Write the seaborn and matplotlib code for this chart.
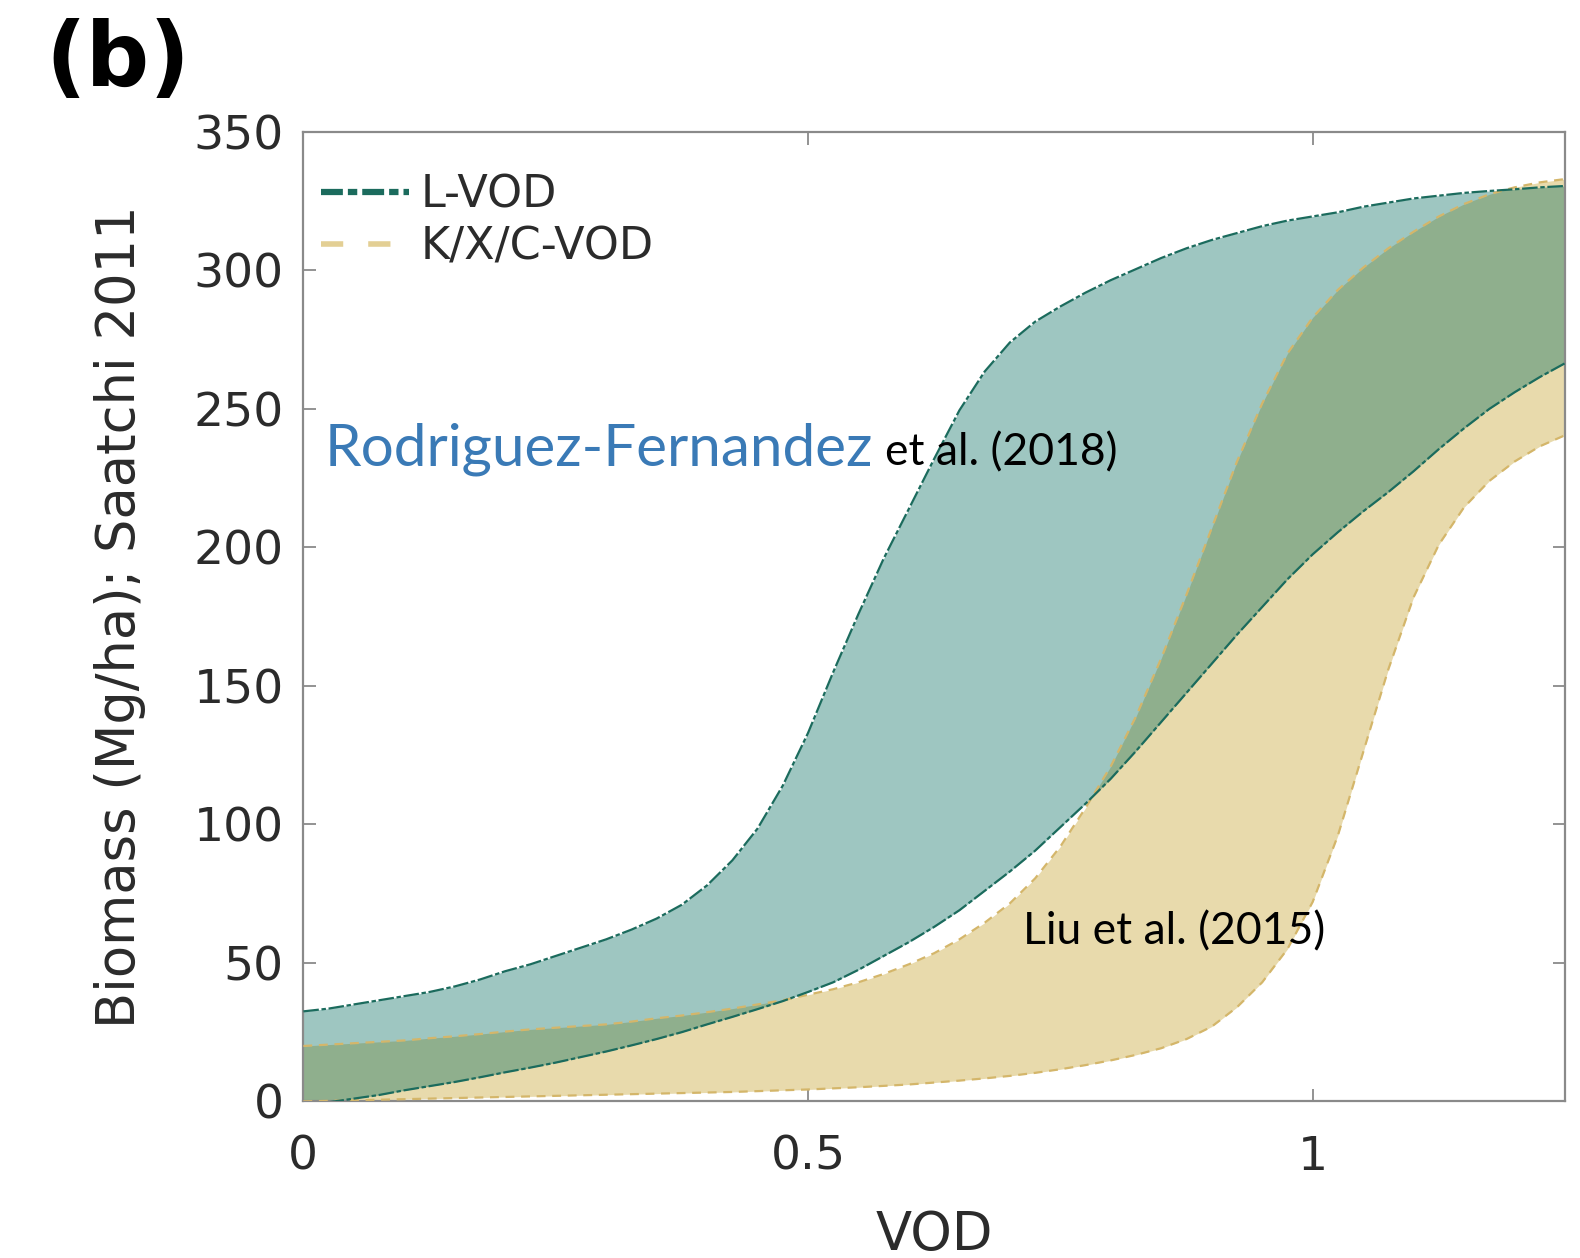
import numpy as np
import pandas as pd
import matplotlib
matplotlib.use("Agg")
import matplotlib.pyplot as plt
import seaborn as sns
from matplotlib.lines import Line2D

# ---------------- data ----------------
vod = [0.0, 0.025, 0.05, 0.075, 0.1, 0.125, 0.15, 0.175, 0.2, 0.225,
       0.25, 0.275, 0.3, 0.325, 0.35, 0.375, 0.4, 0.425, 0.45, 0.475,
       0.5, 0.525, 0.55, 0.575, 0.6, 0.625, 0.65, 0.675, 0.7, 0.725,
       0.75, 0.775, 0.8, 0.825, 0.85, 0.875, 0.9, 0.925, 0.95, 0.975,
       1.0, 1.025, 1.05, 1.075, 1.1, 1.125, 1.15, 1.175, 1.2, 1.225, 1.25]

lvod_upper = [32.5, 33.5, 35, 36.5, 38, 39.5, 41.5, 44, 47, 49.5,
              52.5, 55.5, 58.5, 62, 66, 71, 78, 87, 98.5, 114,
              133, 155, 176, 196, 214, 232, 249.5, 263.5, 274, 281.5,
              287, 292, 296.5, 300.5, 304.5, 308, 311, 313.5, 316, 318,
              319.5, 321, 323, 324.5, 326, 327, 328, 328.7, 329.3, 330, 330.5]

lvod_lower = [-1.5, -0.3, 1, 2.3, 4, 5.5, 7, 8.7, 10.5, 12.2,
              14, 16, 18, 20.2, 22.5, 25, 27.8, 30.5, 33.3, 36.2,
              39.5, 43, 47.5, 52.5, 57.5, 63, 69, 76, 83, 90.5,
              99, 107.5, 116.5, 126.5, 137, 147.5, 158, 168.5, 178.5, 188.5,
              197.5, 205.5, 213, 220, 227.5, 235.5, 243, 250, 256, 261.5, 266.5]

kxc_upper = [20, 20.5, 21, 21.5, 22, 22.8, 23.5, 24.3, 25.2, 26,
             26.6, 27.2, 27.8, 28.8, 30, 31, 32.2, 33.5, 35, 36.5,
             38.5, 40.5, 43, 46, 49.5, 53.5, 58.5, 64.5, 71.5, 80.5,
             92, 106, 121, 139, 160, 183, 207, 231, 252, 270,
             283, 293, 301, 308, 314, 319.5, 324, 327.5, 330, 331.8, 333]

kxc_lower = [0, 0.2, 0.4, 0.6, 0.8, 1.0, 1.2, 1.4, 1.6, 1.8,
             2.0, 2.2, 2.4, 2.6, 2.8, 3.0, 3.2, 3.4, 3.7, 4.0,
             4.3, 4.7, 5.1, 5.6, 6.1, 6.8, 7.5, 8.3, 9.2, 10.3,
             11.6, 13.1, 14.8, 16.8, 19.2, 22.5, 27, 34, 43, 55,
             72, 96, 126, 156, 182, 201, 214.5, 224, 231, 236.5, 240.5]

series_names = ["L-VOD", "K/X/C-VOD"]
x_ticks = [0, 0.5, 1]
x_tick_labels = ["0", "0.5", "1"]
y_ticks = [0, 50, 100, 150, 200, 250, 300, 350]
y_tick_labels = ["0", "50", "100", "150", "200", "250", "300", "350"]

# ---------------- style ----------------
sns.set_theme(style="white")
plt.rcParams["font.family"] = ["DejaVu Sans"]

teal_fill = "#00695c"
teal_line = "#1b6b5d"
sand_fill = "#e8daac"
sand_line = "#d4b66a"
text_gray = "#2b2b2b"
spine_gray = "#8a8a8a"

fig = plt.figure(figsize=(15.8, 12.58), dpi=100)
ax = fig.add_axes([0.192, 0.1245, 0.7985, 0.7706])

df = pd.DataFrame({"VOD": vod, "lu": lvod_upper, "ll": lvod_lower,
                   "ku": kxc_upper, "kl": kxc_lower})

# filled envelopes
ax.fill_between(df["VOD"], df["kl"], df["ku"], color=sand_fill, lw=0, zorder=1)
ax.fill_between(df["VOD"], df["ll"], df["lu"], color=teal_fill, alpha=0.38, lw=0, zorder=2)

# envelope edges via seaborn
for col in ["ku", "kl"]:
    sns.lineplot(data=df, x="VOD", y=col, ax=ax, color=sand_line, lw=1.6,
                 zorder=3, estimator=None, sort=False)
    ax.lines[-1].set_dashes([4, 3])
for col in ["lu", "ll"]:
    sns.lineplot(data=df, x="VOD", y=col, ax=ax, color=teal_line, lw=1.6,
                 zorder=4, estimator=None, sort=False)
    ax.lines[-1].set_dashes([7, 1.2, 2, 1.2])

ax.set_xlim(0, 1.25)
ax.set_ylim(0, 350)
ax.set_xticks(x_ticks)
ax.set_xticklabels(x_tick_labels)
ax.set_yticks(y_ticks)
ax.set_yticklabels(y_tick_labels)

ax.tick_params(axis="both", which="both", direction="in", length=9, width=1.3,
               color=spine_gray, labelsize=34, labelcolor=text_gray,
               top=True, right=True, left=True, bottom=True)
ax.tick_params(axis="x", pad=24)
ax.tick_params(axis="y", pad=14)
for s in ax.spines.values():
    s.set_color(spine_gray)
    s.set_linewidth(1.6)

ax.set_xlabel("VOD", fontsize=38, color=text_gray, labelpad=21)
ax.set_ylabel("Biomass (Mg/ha); Saatchi 2011", fontsize=38, color=text_gray, labelpad=34)

# legend
handles = [
    Line2D([0], [0], color=teal_line, lw=4.5, dashes=[3.5, 0.8, 1.5, 0.8]),
    Line2D([0], [0], color="#e3cf94", lw=4, dashes=[4, 4.5]),
]
ax.legend(handles, series_names, loc="upper left", frameon=False,
          fontsize=32, handlelength=2.0, handletextpad=0.25,
          labelspacing=0.2, borderaxespad=0.0,
          bbox_to_anchor=(-0.0005, 0.975), labelcolor=text_gray)

# annotations
ax.text(0.021, 229.6, "Rodriguez-Fernandez", family=["Lato", "DejaVu Sans"],
        fontsize=42, color="#3a7ab6", ha="left", va="baseline", zorder=6)
ax.text(0.576, 229.6, "et al. (2018)", family=["Lato", "DejaVu Sans"],
        fontsize=32, color="black", ha="left", va="baseline", zorder=6)
ax.text(0.713, 56.5, "Liu et al. (2015)", family=["Lato", "DejaVu Sans"],
        fontsize=32, color="black", ha="left", va="baseline", zorder=6)

fig.text(0.029, 0.932, "(b)", fontsize=64, fontweight="bold", color="black",
         ha="left", va="baseline")

fig.savefig("out.png", dpi=100, facecolor="white")
